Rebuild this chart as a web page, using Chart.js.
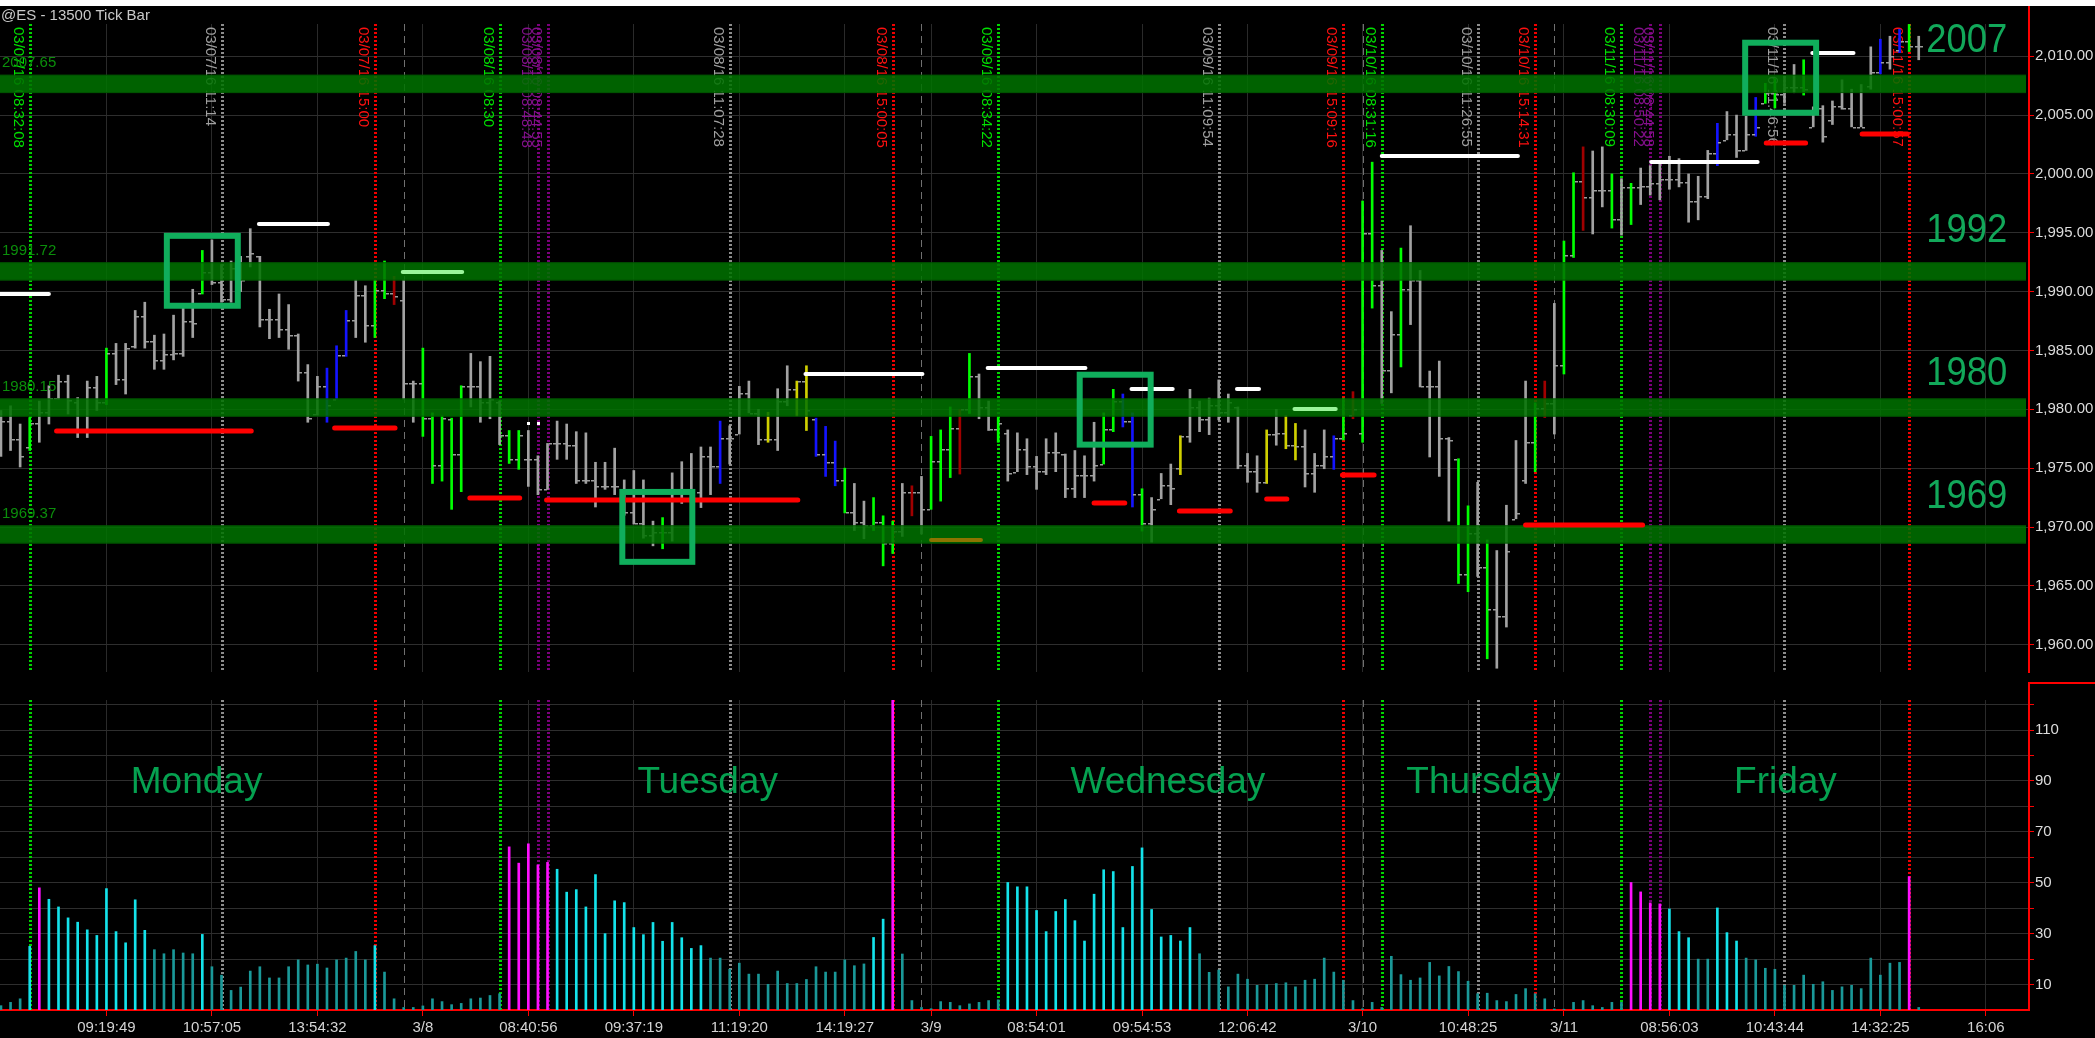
<!DOCTYPE html>
<html>
<head>
<meta charset="utf-8">
<script src="https://cdn.jsdelivr.net/npm/chart.js@4.4.0/dist/chart.umd.min.js"></script>
<style>
  html, body { margin: 0; padding: 0; background: #000; width: 2095px; height: 1038px; overflow: hidden; }
  #strip { position: absolute; left: 0; top: 0; width: 2095px; height: 6px; background: #fff; z-index: 5; }
  #pricePane { position: absolute; left: 0; top: 6px; }
  #volPane { position: absolute; left: 0; top: 682px; }
</style>
</head>
<body>
<div id="strip"></div>
<canvas id="pricePane" width="2095" height="676"></canvas>
<canvas id="volPane" width="2095" height="356"></canvas>
<script>
const title = '@ES - 13500 Tick Bar';

const priceTicks = [1960, 1965, 1970, 1975, 1980, 1985, 1990, 1995, 2000, 2005, 2010];
const volTicks = [10, 20, 30, 40, 50, 60, 70, 80, 90, 100, 110, 120];

// bar index of each time label on the bottom axis
const timeTickPos = [11, 22, 33, 44, 55, 66, 77, 88, 97, 108, 119, 130, 142, 153, 163, 174, 185, 196, 207];
const timeTickText = ['09:19:49', '10:57:05', '13:54:32', '3/8', '08:40:56', '09:37:19', '11:19:20', '14:19:27', '3/9',
  '08:54:01', '09:54:53', '12:06:42', '3/10', '10:48:25', '3/11', '08:56:03', '10:43:44', '14:32:25', '16:06'];

// [open, high, low, close] per 13500-tick bar
const ohlc = [
  [1977.0,1979.9,1976.0,1979.0],[1979.0,1980.3,1976.5,1977.5],[1977.5,1978.75,1975.1,1976.0],[1976.8,1979.3,1976.5,1978.8],
  [1978.8,1980.7,1977.2,1979.8],[1979.8,1982.0,1978.75,1981.0],[1981.0,1982.9,1980.85,1982.4],[1982.4,1982.9,1979.6,1980.8],
  [1980.6,1981.0,1977.6,1978.2],[1978.2,1982.4,1977.6,1981.9],[1981.9,1982.8,1979.9,1980.6],[1980.6,1985.2,1980.4,1984.8],
  [1984.8,1985.6,1982.1,1982.6],[1982.6,1985.6,1981.3,1985.2],[1985.4,1988.4,1985.2,1987.9],[1987.9,1989.1,1985.2,1985.8],
  [1985.8,1986.3,1983.4,1984.2],[1984.2,1986.4,1983.4,1984.7],[1984.7,1988.0,1984.2,1984.8],[1984.8,1988.7,1984.5,1987.5],
  [1987.5,1990.2,1986.1,1987.3],[1989.9,1993.5,1989.8,1991.7],[1991.7,1994.4,1990.6,1990.8],[1990.8,1992.3,1989.1,1989.4],
  [1989.4,1992.6,1989.1,1992.0],[1992.0,1993.0,1990.0,1991.0],[1993.0,1995.35,1992.1,1993.3],[1993.0,1993.0,1987.0,1987.7],
  [1987.7,1988.5,1986.0,1987.7],[1987.7,1989.8,1986.1,1986.8],[1986.8,1988.9,1985.1,1986.3],[1986.3,1986.4,1982.4,1983.2],
  [1983.2,1983.8,1978.9,1979.3],[1979.6,1982.8,1979.5,1982.0],[1982.0,1983.5,1978.9,1980.4],[1980.9,1985.4,1980.85,1984.6],
  [1984.6,1988.4,1984.5,1987.6],[1987.6,1991.0,1986.1,1989.7],[1989.7,1990.5,1985.7,1987.2],[1987.2,1991.0,1986.1,1990.1],
  [1990.1,1992.6,1989.4,1989.9],[1989.9,1991.3,1988.9,1989.6],[1989.3,1991.0,1980.85,1982.2],[1982.2,1982.4,1978.9,1982.2],
  [1982.2,1985.2,1977.7,1979.3],[1979.3,1979.7,1973.7,1975.3],[1975.3,1979.45,1973.9,1979.3],[1979.2,1979.25,1971.5,1976.2],
  [1976.2,1982.0,1973.0,1982.0],[1982.0,1984.75,1980.2,1982.0],[1982.0,1984.05,1978.9,1980.6],[1980.6,1984.5,1979.2,1980.9],
  [1980.6,1980.7,1977.0,1977.8],[1977.8,1978.2,1975.4,1975.8],[1975.8,1978.2,1974.9,1977.8],[1975.8,1978.2,1973.45,1975.8],
  [1975.8,1976.05,1972.75,1973.2],[1973.2,1977.1,1973.2,1977.1],[1977.1,1979.0,1975.75,1977.1],[1977.1,1978.75,1975.75,1977.0],
  [1977.0,1978.1,1973.7,1974.0],[1974.0,1978.0,1973.7,1974.0],[1974.0,1975.5,1971.7,1973.5],[1973.5,1975.5,1973.2,1973.5],
  [1973.5,1976.7,1972.75,1973.5],[1973.0,1974.0,1971.0,1971.3],[1971.3,1974.8,1970.25,1970.3],[1970.3,1974.0,1969.05,1969.3],
  [1969.3,1970.5,1968.4,1969.6],[1969.6,1970.8,1968.15,1969.6],[1969.6,1974.6,1968.8,1973.0],[1973.0,1975.55,1972.0,1973.0],
  [1973.0,1976.25,1972.1,1973.0],[1973.0,1976.8,1971.65,1976.0],[1976.0,1976.8,1972.75,1975.2],[1975.2,1979.0,1973.7,1977.6],
  [1977.6,1978.6,1975.35,1977.6],[1977.9,1981.95,1977.9,1981.4],[1981.4,1982.4,1979.7,1979.7],[1979.7,1980.0,1977.0,1977.5],
  [1977.5,1979.75,1977.2,1977.5],[1977.5,1981.75,1976.5,1980.7],[1980.7,1983.7,1980.3,1981.7],[1981.7,1982.4,1979.45,1982.4],
  [1982.4,1983.7,1978.2,1979.9],[1979.2,1979.25,1976.0,1976.2],[1976.2,1978.55,1974.3,1975.5],[1975.5,1977.3,1973.5,1974.0],
  [1974.0,1975.0,1971.2,1971.3],[1971.3,1973.7,1969.7,1970.4],[1970.4,1972.2,1969.0,1970.2],[1970.2,1972.5,1969.7,1970.4],
  [1970.4,1970.95,1966.7,1968.6],[1968.6,1970.5,1967.75,1969.7],[1969.7,1973.7,1969.2,1973.0],[1973.0,1973.5,1970.95,1973.0],
  [1973.0,1974.3,1969.4,1971.5],[1971.5,1977.7,1971.5,1975.6],[1975.6,1978.25,1972.2,1976.6],[1976.6,1980.2,1974.2,1978.4],
  [1978.4,1980.0,1974.5,1980.0],[1980.0,1984.75,1979.65,1982.8],[1982.8,1983.0,1979.2,1980.2],[1980.2,1980.7,1978.2,1978.3],
  [1978.3,1979.3,1977.2,1978.8],[1978.0,1978.25,1973.9,1974.6],[1974.7,1978.0,1974.7,1976.6],[1976.6,1977.5,1974.45,1975.2],
  [1975.2,1976.0,1973.2,1974.8],[1974.8,1977.5,1974.45,1976.4],[1976.4,1978.0,1974.7,1976.4],[1976.2,1976.2,1972.5,1973.3],
  [1973.3,1976.5,1972.5,1974.4],[1974.4,1976.05,1972.5,1974.4],[1974.4,1978.9,1973.9,1975.3],[1975.35,1979.7,1975.35,1978.3],
  [1978.3,1981.7,1978.1,1980.7],[1980.7,1981.3,1978.5,1979.0],[1979.0,1979.7,1971.7,1972.8],[1972.8,1973.25,1969.65,1970.3],
  [1970.3,1972.5,1968.7,1971.5],[1972.4,1974.55,1972.4,1973.6],[1973.6,1975.35,1971.9,1973.3],[1975.0,1977.75,1974.45,1977.7],
  [1977.7,1981.7,1977.2,1980.2],[1980.2,1980.7,1978.1,1979.2],[1979.2,1980.95,1977.85,1980.4],[1980.4,1982.5,1979.1,1979.8],
  [1979.8,1981.3,1978.9,1980.6],[1980.2,1980.2,1974.95,1975.3],[1975.3,1976.25,1973.8,1974.8],[1974.8,1976.05,1972.95,1973.8],
  [1973.8,1978.25,1973.7,1977.9],[1977.9,1980.0,1976.95,1978.0],[1978.0,1979.45,1976.65,1977.0],[1977.0,1978.8,1975.7,1976.9],
  [1976.9,1978.25,1973.4,1974.6],[1974.6,1976.25,1972.95,1975.3],[1975.3,1978.25,1974.95,1976.0],[1976.0,1977.75,1974.9,1977.6],
  [1977.6,1980.95,1977.4,1978.0],[1979.5,1981.5,1979.2,1980.0],[1978.0,1997.7,1977.2,1995.0],[1995.0,2001.0,1988.6,1990.6],
  [1990.6,1993.5,1980.5,1983.3],[1983.3,1988.3,1981.4,1986.4],[1986.4,1993.7,1983.6,1990.2],[1990.2,1995.6,1987.2,1991.0],
  [1991.0,1991.8,1981.9,1982.0],[1982.0,1983.25,1975.95,1982.0],[1982.0,1984.1,1974.3,1977.6],[1977.6,1977.6,1970.5,1977.4],
  [1975.8,1975.8,1965.2,1966.0],[1966.0,1971.8,1964.5,1969.5],[1969.5,1973.8,1965.8,1966.6],[1966.6,1968.9,1958.8,1963.0],
  [1963.0,1968.0,1958.0,1962.4],[1962.4,1971.85,1961.5,1968.0],[1970.7,1977.35,1970.7,1971.2],[1974.0,1982.4,1973.7,1977.2],
  [1977.2,1980.55,1974.7,1980.1],[1980.1,1982.4,1979.3,1980.5],[1980.5,1989.0,1977.9,1983.8],[1983.8,1994.3,1983.0,1993.1],
  [1993.1,2000.1,1992.9,1999.4],[1999.4,2002.3,1995.2,1998.0],[1998.0,2001.95,1994.9,1998.6],[1998.6,2002.3,1997.2,1998.6],
  [1998.6,2000.0,1995.4,1996.2],[1996.2,1999.6,1994.8,1998.9],[1998.9,1999.2,1995.7,1998.9],[1998.9,2000.5,1997.4,1999.0],
  [1999.0,2000.7,1998.2,1999.2],[1999.2,2001.0,1997.8,1999.6],[1999.6,2001.5,1998.7,1999.6],[1999.6,2001.3,1998.9,1999.3],
  [1999.3,2000.0,1995.9,1997.7],[1997.7,1999.8,1996.1,1998.1],[1998.1,2002.0,1997.9,2001.8],[2001.8,2004.3,2000.7,2002.7],
  [2002.9,2005.3,2002.9,2003.4],[2003.4,2005.0,2001.4,2002.0],[2002.0,2004.9,2002.0,2003.4],[2003.4,2006.5,2003.2,2004.0],
  [2006.0,2007.7,2006.0,2006.9],[2006.9,2008.1,2005.6,2006.8],[2006.8,2008.3,2006.0,2007.4],[2007.4,2009.3,2006.9,2007.4],
  [2007.4,2009.7,2006.7,2007.2],[2004.0,2005.7,2004.0,2005.6],[2005.6,2005.8,2002.7,2003.2],[2004.6,2006.2,2004.2,2005.8],
  [2005.8,2008.0,2005.5,2005.6],[2005.6,2007.2,2004.0,2004.0],[2004.0,2007.6,2004.0,2004.0],[2007.5,2010.8,2007.2,2008.7],
  [2008.7,2011.45,2008.5,2009.5],[2009.5,2011.7,2008.9,2010.0],[2010.5,2012.3,2010.3,2011.3],[2011.3,2012.7,2010.4,2010.9],
  [2010.9,2011.7,2009.7,2010.9]
];

// paint-bar signal per bar: g plain, G up, B down, Y warning, R reversal
const barKind =
  'gggGgggggg' + 'gGgggggggg' + 'gGgggggggg' + 'ggggBBBggG' + 'GRggGGGGGg' +
  'gggGGggggg' + 'gggggggggG' + 'gggggBgggg' + 'YggYYBBBGg' + 'gGGGgRgGGG' +
  'RGggGggggg' + 'gggggGGBBG' + 'gggYgggggg' + 'ggYgYYgggB' + 'GRGGggGggg' +
  'ggGGgGgggg' + 'GRgGGRggGg' + 'GggggggggB' + 'gggBGGggGg' + 'ggggggBgBG' + 'g';

// lower pane value per bar
const volume = [
  1.7, 3, 4.4, 25, 48, 43.5, 40.5, 36.2, 34.5, 31.5,
  29.3, 47.7, 30.8, 26.4, 43.3, 31.3, 23.7, 22.1, 23.7, 22.4,
  22.1, 29.7, 17, 13.7, 7.7, 9, 15.3, 17, 12.6, 12.6,
  17, 19.7, 17.7, 18, 16.5, 19.7, 20.4, 23, 19.7, 25.3,
  14.9, 4.4, 1, 1, 1.6, 4.4, 3.3, 2.1, 2.6, 4.4,
  4.7, 5.7, 6.4, 64.1, 57.7, 65.3, 57, 58, 55.3, 46.3,
  47.3, 40.5, 53.2, 30, 42.9, 42.2, 32.4, 29.6, 34.4, 27,
  34.4, 28.4, 24.2, 25.3, 20.4, 20.4, 16, 18.4, 14.1, 14.1,
  10.1, 15.3, 10.4, 10.4, 12, 17, 14.9, 14.9, 19.7, 17.4,
  18.1, 28.5, 35.7, 131, 22, 3.7, 1, 0.5, 3.3, 3,
  1.7, 2.4, 3, 3.7, 4, 50.1, 48.4, 48.4, 39.1, 30.8,
  38.7, 43.4, 35.1, 27.1, 45.5, 55.1, 54.4, 32.4, 56.4, 63.7,
  39.5, 28.7, 29.3, 27.1, 32.4, 22.1, 14.8, 15.7, 9.1, 14.1,
  12.1, 9.7, 10, 10.4, 10.7, 9.1, 11.7, 12.1, 20.4, 14.9,
  11.7, 3.7, 0.5, 3, 1, 21.1, 13.9, 11.7, 12.6, 18.7,
  13.4, 17.1, 15.1, 11.3, 6.4, 6.6, 3.7, 3.3, 6.1, 8.4,
  6.4, 4.4, 0.4, 0.3, 3, 3.7, 1.7, 1, 3, 3,
  50.1, 46.4, 42.1, 41.7, 39.7, 30.8, 28.4, 20, 20, 40.1,
  30.4, 27.1, 20.4, 19.7, 16.4, 16, 9.7, 9.7, 13.7, 10.1,
  11.1, 7.7, 9.1, 9.7, 8.4, 20.4, 13.7, 18.4, 18.7, 52.4,
  1
];
const spikeBars = [4, 53, 54, 55, 56, 57, 93, 170, 171, 172, 173, 199];

// session markers: [bar, kind, stamp]  (g open, w midday, r close, p news)
const events = [
  [3, 'g', '03/07/16 08:32:08'], [23, 'w', '03/07/16 11:14'], [39, 'r', '03/07/16 15:00'],
  [52, 'g', '03/08/16 08:30'], [56, 'p', '03/08/16 08:48:48'], [57, 'p', '03/08/16 08:44:55'],
  [76, 'w', '03/08/16 11:07:28'], [93, 'r', '03/08/16 15:00:05'],
  [104, 'g', '03/09/16 08:34:22'], [127, 'w', '03/09/16 11:09:54'], [140, 'r', '03/09/16 15:09:16'],
  [144, 'g', '03/10/16 08:31:16'], [154, 'w', '03/10/16 11:26:55'], [160, 'r', '03/10/16 15:14:31'],
  [169, 'g', '03/11/16 08:30:09'], [172, 'p', '03/11/16 08:50:22'], [173, 'p', '03/11/16 08:44:58'],
  [186, 'w', '03/11/16 11:46:56'], [199, 'r', '03/11/16 15:00:57']
];
const dayBreaks = [42, 96, 142, 162];

const bands = [2007.65, 1991.72, 1980.15, 1969.37];
const bandNames = ['2007', '1992', '1980', '1969'];
const bandNameBase = [2010.39, 1994.24, 1982.1, 1971.64];

// short levels: [fromBar, toBar, price]
const whiteLevels = [[-0.1, 5.0, 1989.8], [26.9, 34.1, 1995.75], [83.9, 96.1, 1983.0], [102.9, 113.1, 1983.5],
  [117.9, 122.2, 1981.7], [128.9, 131.2, 1981.7], [144.0, 158.2, 2001.5], [172.1, 183.2, 2001.0], [188.9, 193.2, 2010.3]];
const paleLevels = [[41.9, 48.1, 1991.7], [134.9, 139.2, 1980.0]];
const redLevels = [[5.8, 26.1, 1978.2], [34.8, 41.1, 1978.4], [48.9, 54.1, 1972.5], [56.9, 83.1, 1972.3],
  [114.0, 117.2, 1972.0], [122.9, 128.2, 1971.4], [132.0, 134.1, 1972.4], [139.9, 143.2, 1974.4],
  [159.0, 171.2, 1970.2], [184.1, 188.2, 2002.6], [194.1, 198.8, 2003.4]];
const oliveLevels = [[97.0, 102.2, 1968.9]];
const whiteDots = [[55, 1978.8], [56, 1978.8]];

// highlighted boxes: [fromBar, toBar, topPrice, bottomPrice]
const boxes = [[17.3, 24.7, 1994.74, 1988.8], [64.8, 72.1, 1972.98, 1967.04],
  [112.5, 119.9, 1982.94, 1977.0], [181.9, 189.3, 2011.15, 2005.2]];

const days = ['Monday', 'Tuesday', 'Wednesday', 'Thursday', 'Friday'];
const dayCenter = [20.4, 73.7, 121.7, 154.6, 186.1];

const FONT = '"Liberation Sans", Arial, sans-serif';
const xMin = -0.1, xMax = 211.5;
const kindColor = { g: '#a2a2a2', G: '#00ff00', B: '#1414ff', Y: '#d0d000', R: '#a00000' };
const lineColor = { g: '#00d400', w: '#8c8c8c', r: '#f00000', p: '#7a007a' };
const textColor = { g: '#00e000', w: '#a0a0a0', r: '#ff1010', p: '#86108e' };

Chart.defaults.font.family = FONT;

function drawEvents(chart, withText) {
  const { ctx, chartArea: a, scales: { x } } = chart;
  ctx.save();
  ctx.beginPath();
  ctx.rect(a.left, a.top, a.right - a.left, a.bottom - a.top);
  ctx.clip();
  ctx.strokeStyle = '#707070';
  ctx.lineWidth = 1;
  ctx.setLineDash([7, 5]);
  dayBreaks.forEach(i => {
    const px = Math.round(x.getPixelForValue(i)) + 0.5;
    ctx.beginPath(); ctx.moveTo(px, a.top); ctx.lineTo(px, a.bottom); ctx.stroke();
  });
  ctx.lineWidth = 3;
  ctx.setLineDash([2, 2]);
  events.forEach(([i, k]) => {
    const px = Math.round(x.getPixelForValue(i)) + 0.5;
    ctx.strokeStyle = lineColor[k];
    ctx.beginPath(); ctx.moveTo(px, a.top); ctx.lineTo(px, a.bottom); ctx.stroke();
  });
  ctx.restore();
  if (!withText) return;
  ctx.save();
  ctx.font = '15px ' + FONT;
  ctx.textBaseline = 'alphabetic';
  events.forEach(([i, k, s]) => {
    const px = Math.round(x.getPixelForValue(i));
    ctx.save();
    ctx.translate(px - 16, a.top + 3);
    ctx.rotate(Math.PI / 2);
    ctx.fillStyle = textColor[k];
    ctx.fillText(s, 0, 0);
    ctx.restore();
  });
  ctx.restore();
}

function drawLevels(ctx, x, y, list, color, width) {
  ctx.strokeStyle = color;
  ctx.lineWidth = width;
  list.forEach(([f, t, p]) => {
    const py = Math.round(y.getPixelForValue(p));
    ctx.beginPath();
    ctx.moveTo(x.getPixelForValue(f), py);
    ctx.lineTo(x.getPixelForValue(t), py);
    ctx.stroke();
  });
}

const priceOverlay = {
  id: 'priceOverlay',
  beforeDatasetsDraw(chart) { drawEvents(chart, true); },
  afterDatasetsDraw(chart) {
    const { ctx, chartArea: a, scales: { x, y } } = chart;
    ctx.save();
    ctx.beginPath();
    ctx.rect(a.left, a.top, a.right - a.left, a.bottom - a.top);
    ctx.clip();
    // open / close ticks
    ctx.fillStyle = '#9c9c9c';
    ohlc.forEach((b, i) => {
      const px = Math.round(x.getPixelForValue(i));
      ctx.fillRect(px - 4, Math.round(y.getPixelForValue(b[0])), 3, 1.5);
      ctx.fillRect(px + 1, Math.round(y.getPixelForValue(b[3])), 3, 1.5);
    });
    // support / resistance bands
    bands.forEach(p => {
      const t = y.getPixelForValue(p + 0.78), btm = y.getPixelForValue(p - 0.78);
      ctx.fillStyle = 'rgba(0,114,0,0.86)';
      ctx.fillRect(a.left, t, a.right - a.left - 3, btm - t);
      ctx.fillStyle = 'rgba(0,70,0,0.6)';
      ctx.fillRect(a.left, t, a.right - a.left - 3, 1);
      ctx.fillRect(a.left, btm - 1, a.right - a.left - 3, 1);
    });
    ctx.lineCap = 'round';
    drawLevels(ctx, x, y, whiteLevels, '#ffffff', 4);
    drawLevels(ctx, x, y, paleLevels, '#9af59a', 4);
    drawLevels(ctx, x, y, redLevels, '#ff0000', 5);
    drawLevels(ctx, x, y, oliveLevels, '#8c7400', 4);
    ctx.fillStyle = '#ffffff';
    whiteDots.forEach(([i, p]) => {
      ctx.fillRect(Math.round(x.getPixelForValue(i)) - 1, Math.round(y.getPixelForValue(p)) - 1, 3, 3);
    });
    // boxes
    ctx.lineCap = 'butt';
    ctx.strokeStyle = '#10ae5c';
    ctx.lineWidth = 6;
    boxes.forEach(([f, t, hi, lo]) => {
      const x0 = x.getPixelForValue(f), x1 = x.getPixelForValue(t);
      const y0 = y.getPixelForValue(hi), y1 = y.getPixelForValue(lo);
      ctx.strokeRect(x0, y0, x1 - x0, y1 - y0);
    });
    // band labels
    ctx.textBaseline = 'middle';
    ctx.font = '15px ' + FONT;
    ctx.fillStyle = '#0b8e0b';
    ctx.textAlign = 'left';
    bands.forEach(p => ctx.fillText(p.toFixed(2), 2, y.getPixelForValue(p) - 21));
    ctx.font = '40px ' + FONT;
    ctx.fillStyle = '#12a85a';
    ctx.textAlign = 'center';
    ctx.textBaseline = 'alphabetic';
    bandNames.forEach((s, k) => {
      ctx.save();
      ctx.translate(x.getPixelForValue(205), y.getPixelForValue(bandNameBase[k]));
      ctx.scale(0.91, 1);
      ctx.fillText(s, 0, 0);
      ctx.restore();
    });
    ctx.restore();
  },
  afterDraw(chart) {
    const { ctx, chartArea: a } = chart;
    ctx.save();
    ctx.fillStyle = '#ff0000';
    ctx.fillRect(a.right - 1, 0, 2, a.top + 1);
    ctx.fillStyle = '#c8c8c8';
    ctx.font = '15px ' + FONT;
    ctx.textBaseline = 'middle';
    ctx.textAlign = 'left';
    ctx.fillText(title, 1, 10);
    ctx.restore();
  }
};

const volOverlay = {
  id: 'volOverlay',
  beforeDatasetsDraw(chart) { drawEvents(chart, false); },
  afterDatasetsDraw(chart) {
    const { ctx, scales: { x, y } } = chart;
    ctx.save();
    ctx.font = '37px ' + FONT;
    ctx.fillStyle = '#05a150';
    ctx.textAlign = 'center';
    ctx.textBaseline = 'alphabetic';
    days.forEach((d, k) => ctx.fillText(d, x.getPixelForValue(dayCenter[k]), y.getPixelForValue(85.2)));
    ctx.restore();
  },
  afterDraw(chart) {
    const { ctx, chartArea: a, width } = chart;
    ctx.save();
    ctx.fillStyle = '#ff0000';
    ctx.fillRect(a.right - 1, 0, 2, a.top + 1);
    ctx.fillRect(a.right, 0, width - a.right, 2);
    ctx.restore();
  }
};

function xScale(showLabels) {
  return {
    type: 'linear', min: xMin, max: xMax, offset: false,
    afterBuildTicks: s => { s.ticks = timeTickPos.map(v => ({ value: v })); },
    afterFit: s => { s.height = showLabels ? 28 : 0; },
    grid: { color: '#2a2a2a', lineWidth: 1, offset: false, drawTicks: showLabels, tickLength: 6, tickColor: '#ff0000' },
    border: { display: showLabels, color: '#ff0000', width: 2 },
    ticks: {
      display: showLabels, autoSkip: false, maxRotation: 0, minRotation: 0, padding: 3,
      color: '#d4d4d4', font: { size: 15 },
      callback: (v, i) => timeTickText[i]
    }
  };
}

const baseOptions = {
  responsive: false, maintainAspectRatio: false, devicePixelRatio: 1, animation: false,
  layout: { padding: { top: 18, left: 0, right: 0, bottom: 0 }, autoPadding: false },
  plugins: { legend: { display: false }, tooltip: { enabled: false } }
};

new Chart(document.getElementById('pricePane'), {
  type: 'bar',
  data: {
    datasets: [{
      data: ohlc.map((b, i) => ({ x: i, y: [b[2], b[1]] })),
      backgroundColor: ohlc.map((b, i) => kindColor[barKind[i]]),
      barThickness: 2, borderWidth: 0, grouped: false
    }]
  },
  options: Object.assign({}, baseOptions, {
    scales: {
      x: xScale(false),
      y: {
        type: 'linear', position: 'right', min: 1957.68, max: 2012.74, beginAtZero: false,
        afterBuildTicks: s => { s.ticks = priceTicks.map(v => ({ value: v })); },
        afterFit: s => { s.width = 66; },
        grid: { color: '#2e2e2e', tickColor: '#ff0000', tickLength: 5 },
        border: { color: '#ff0000', width: 2 },
        ticks: {
          color: '#dcdcdc', font: { size: 15 }, padding: 1,
          callback: v => v.toLocaleString('en-US', { minimumFractionDigits: 2, maximumFractionDigits: 2 })
        }
      }
    }
  }),
  plugins: [priceOverlay]
});

new Chart(document.getElementById('volPane'), {
  type: 'bar',
  data: {
    datasets: [{
      data: volume.map((v, i) => ({ x: i, y: v })),
      backgroundColor: volume.map((v, i) => spikeBars.includes(i) ? '#ff10ff' : (v >= 24 ? '#14e2ea' : '#1a9898')),
      barThickness: 2, borderWidth: 0, grouped: false
    }]
  },
  options: Object.assign({}, baseOptions, {
    scales: {
      x: xScale(true),
      y: {
        type: 'linear', position: 'right', min: 0, max: 121.8,
        afterBuildTicks: s => { s.ticks = volTicks.map(v => ({ value: v })); },
        afterFit: s => { s.width = 66; },
        grid: { color: '#2e2e2e', tickColor: '#ff0000', tickLength: 5 },
        border: { color: '#ff0000', width: 2 },
        ticks: {
          color: '#dcdcdc', font: { size: 15 }, padding: 1,
          callback: v => (v / 10) % 2 === 1 ? String(v) : ''
        }
      }
    }
  }),
  plugins: [volOverlay]
});
</script>
</body>
</html>
